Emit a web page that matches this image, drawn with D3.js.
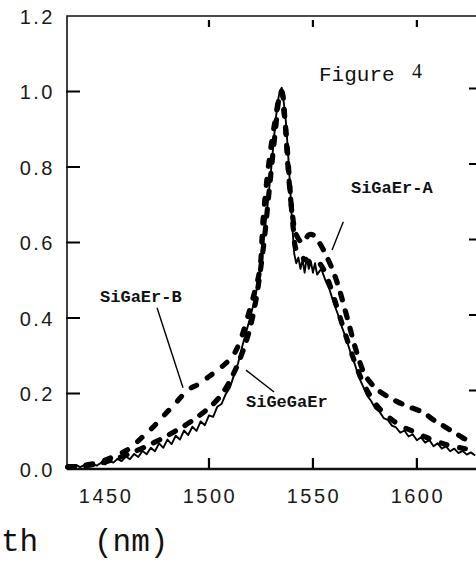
<!DOCTYPE html>
<html>
<head>
<meta charset="utf-8">
<script src="https://cdn.jsdelivr.net/npm/d3@7/dist/d3.min.js"></script>
<style>
  body { margin: 0; background: #fff; overflow: hidden; }
  .tick-label { font-family: "Liberation Sans", Arial, sans-serif; font-size: 20px; fill: #1a1a1a; letter-spacing: 2.5px; }
  .curve-label { font-family: "Liberation Mono", "Courier New", monospace; font-weight: bold; font-size: 17px; fill: #111; }
</style>
</head>
<body>
<script>
  //spectra (wavelength in nm, normalized intensity)
  var solidWl = [1432,1434,1436,1438,1440,1442,1444,1446,1448,1450,1452,1454,1456,1458,1460,1462,1464,1466,1468,1470,
                 1472,1474,1476,1478,1480,1482,1484,1486,1488,1490,1492,1494,1496,1498,1500,1502,1504,1506,1508,1510,
                 1512,1514,1516,1518,1520,1522,1524,1526,1528,1530,1532,1533,1534,1535,1536,1537,1538,1539,1540,1541,
                 1542,1543,1544,1545,1546,1547,1548,1549,1550,1551,1552,1554,1556,1558,1560,1562,1564,1566,1568,1570,
                 1572,1574,1576,1578,1580,1582,1584,1586,1588,1590,1592,1594,1596,1598,1600,1602,1604,1606,1608,1610,
                 1612,1614,1616,1618,1620,1622,1624,1626,1628];
  var solidVal = [0.012,0.006,0.011,0.005,0.010,0.007,0.013,0.009,0.016,0.012,0.021,0.017,0.027,0.021,0.033,0.026,0.040,0.032,0.048,0.039,
                  0.056,0.047,0.068,0.056,0.078,0.066,0.088,0.078,0.102,0.090,0.112,0.101,0.126,0.116,0.142,0.138,0.165,0.172,0.198,0.215,
                  0.248,0.280,0.325,0.365,0.405,0.450,0.505,0.590,0.690,0.800,0.920,0.970,1.000,1.010,0.970,0.920,0.840,0.750,0.650,0.570,
                  0.545,0.560,0.530,0.555,0.520,0.560,0.530,0.550,0.520,0.545,0.515,0.530,0.500,0.475,0.440,0.410,0.375,0.345,0.310,0.280,
                  0.245,0.220,0.195,0.180,0.160,0.152,0.135,0.130,0.115,0.110,0.096,0.102,0.086,0.092,0.076,0.084,0.070,0.077,0.060,0.068,
                  0.054,0.060,0.047,0.054,0.042,0.048,0.038,0.044,0.036];

  var aWl  = [1432,1445,1455,1465,1475,1485,1495,1505,1512,1518,1522,1526,1529,1532,1534,1535,1536.5,1538,1540,1542,
              1545,1548,1550,1553,1556,1560,1563,1567,1571,1575,1580,1585,1590,1596,1603,1608,1614,1620,1624,1628];
  var aVal = [0.005,0.012,0.027,0.048,0.074,0.104,0.140,0.190,0.255,0.340,0.430,0.580,0.740,0.900,0.990,1.000,0.930,0.800,0.680,0.620,
              0.600,0.620,0.620,0.600,0.570,0.520,0.470,0.390,0.310,0.250,0.215,0.195,0.180,0.165,0.150,0.130,0.110,0.090,0.078,0.080];

  var bWl  = [1432,1445,1455,1462,1467,1472,1478,1484,1490,1495,1500,1506,1511.5,1515,1519,1522,1524.5,1526,1529,1532,
              1534,1535,1536,1537.5,1539,1540.5,1542,1545,1548,1552,1555,1558,1562,1566,1570,1574,1578,1582,1587,1592,
              1598,1604,1610,1616,1622,1628];
  var bVal = [0.005,0.015,0.035,0.055,0.080,0.105,0.140,0.175,0.210,0.225,0.245,0.270,0.300,0.340,0.410,0.470,0.530,0.660,0.820,0.930,
              0.990,1.000,0.950,0.860,0.740,0.640,0.580,0.560,0.550,0.550,0.530,0.490,0.420,0.350,0.285,0.230,0.190,0.160,0.135,0.115,
              0.100,0.085,0.072,0.062,0.055,0.050];

  var xTicks = [1450, 1500, 1550, 1600];
  var yTicks = [0.0, 0.2, 0.4, 0.6, 0.8, 1.0, 1.2];
  var curveNames = ["SiGaEr-A", "SiGaEr-B", "SiGeGaEr"];

  window.onload = initialize();

  function initialize(){
    drawChart();
  };

  function drawChart(){

    var width = 476;
    var height = 572;

    var svg = d3.select("body")
                .append("svg")
                .attr("width", width)
                .attr("height", height);

    //plot frame: left edge at 67px, baseline at 469px
    var x = d3.scaleLinear()
              .domain([1431.7, 1629.4])
              .range([67, 478]);

    var y = d3.scaleLinear()
              .domain([0, 1.2])
              .range([469, 16]);

    var x0 = x.range()[0], x1 = x.range()[1];
    var yb = y(0), yt = y(1.2);

    //inward ticks on all four sides, built as one path per side
    var tickPath = function(list, seg) {
      return list.map(seg).join("");
    };

    var ticks = svg.append("g")
                   .attr("fill", "none")
                   .attr("stroke", "#000")
                   .attr("stroke-width", 2.2);

    ticks.append("path")
         .attr("d", tickPath(xTicks.slice(1), function(d) { return "M" + x(d) + "," + (yb - 11) + "V" + yb; }));

    ticks.append("path")
         .attr("d", tickPath(xTicks.slice(1), function(d) { return "M" + x(d) + "," + (yt + 4) + "V" + (yt + 11); }));

    ticks.append("path")
         .attr("d", tickPath(yTicks.slice(1, 6), function(d) { return "M" + (x0 - 1) + "," + y(d) + "H" + (x0 + 13); }));

    //right ticks: the scan is slightly tilted, they sit ~3px higher
    ticks.append("path")
         .attr("d", tickPath(yTicks.slice(1, 6), function(d) { return "M" + (x1 - 9) + "," + (y(d) - 3) + "H" + x1; }));

    //top and left borders, thicker baseline
    svg.append("path")
       .attr("d", "M" + x1 + "," + yt + "H" + x0 + "V" + yb)
       .attr("fill", "none")
       .attr("stroke", "#111")
       .attr("stroke-width", 1.6);
    svg.append("line")
       .attr("x1", x0).attr("x2", x1)
       .attr("y1", yb).attr("y2", yb)
       .attr("stroke", "#111")
       .attr("stroke-width", 2.4);

    //tick labels
    svg.selectAll(".xlab")
       .data(xTicks)
       .enter().append("text")
       .attr("class", "tick-label")
       .attr("text-anchor", "middle")
       .attr("x", function(d) { return x(d) + 1; })
       .attr("y", yb + 34)
       .text(d3.format("d"));

    svg.selectAll(".ylab")
       .data(yTicks)
       .enter().append("text")
       .attr("class", "tick-label")
       .attr("text-anchor", "end")
       .attr("x", x0 - 12)
       .attr("y", function(d) { return y(d) + 7.5; })
       .text(d3.format(".1f"));

    var line = d3.line()
                 .x(function(d) { return x(d[0]); })
                 .y(function(d) { return y(d[1]); });

    var smooth = d3.line()
                   .curve(d3.curveCatmullRom)
                   .x(function(d) { return x(d[0]); })
                   .y(function(d) { return y(d[1]); });

    //dashed spectra
    svg.append("path")
       .datum(d3.zip(bWl, bVal))
       .attr("d", smooth)
       .attr("fill", "none")
       .attr("stroke", "#000")
       .attr("stroke-width", 5.2)
       .attr("stroke-linecap", "round")
       .attr("stroke-dasharray", "6,13");

    svg.append("path")
       .datum(d3.zip(aWl, aVal))
       .attr("d", smooth)
       .attr("fill", "none")
       .attr("stroke", "#000")
       .attr("stroke-width", 5.2)
       .attr("stroke-linecap", "round")
       .attr("stroke-dasharray", "7,11");

    //solid spectrum
    svg.append("path")
       .datum(d3.zip(solidWl, solidVal))
       .attr("d", line)
       .attr("fill", "none")
       .attr("stroke", "#000")
       .attr("stroke-width", 1.9)
       .attr("stroke-linejoin", "round");

    //curve labels and leader lines
    var labels = [
      {name: curveNames[0], at: [1568.3, 0.731], from: [1564.6, 0.655], to: [1559.2, 0.580]},
      {name: curveNames[1], at: [1447.6, 0.442], from: [1475.0, 0.427], to: [1487.5, 0.215]},
      {name: curveNames[2], at: [1517.8, 0.164], from: [1517.8, 0.262], to: [1531.3, 0.204]}
    ];

    var ann = svg.append("g");
    ann.selectAll("text")
       .data(labels)
       .enter().append("text")
       .attr("class", "curve-label")
       .attr("x", function(d) { return x(d.at[0]); })
       .attr("y", function(d) { return y(d.at[1]); })
       .text(function(d) { return d.name; });

    ann.selectAll("line")
       .data(labels)
       .enter().append("line")
       .attr("x1", function(d) { return x(d.from[0]); })
       .attr("y1", function(d) { return y(d.from[1]); })
       .attr("x2", function(d) { return x(d.to[0]); })
       .attr("y2", function(d) { return y(d.to[1]); })
       .attr("stroke", "#000")
       .attr("stroke-width", 1.4);

    //figure caption
    svg.append("text")
       .attr("x", 319)
       .attr("y", 81)
       .style("font-family", "'Liberation Mono', 'Courier New', monospace")
       .style("font-size", "21px")
       .style("fill", "#111")
       .text("Figure");
    svg.append("text")
       .attr("x", 412)
       .attr("y", 78)
       .style("font-family", "'Liberation Serif', serif")
       .style("font-size", "20px")
       .style("fill", "#111")
       .text("4");

    //axis title, as much of it as the crop shows
    svg.append("text")
       .attr("x", 1)
       .attr("y", 551)
       .style("font-family", "'Liberation Mono', 'Courier New', monospace")
       .style("font-size", "31px")
       .style("fill", "#111")
       .attr("xml:space", "preserve")
       .text("th   (nm)");
  };
</script>
</body>
</html>
